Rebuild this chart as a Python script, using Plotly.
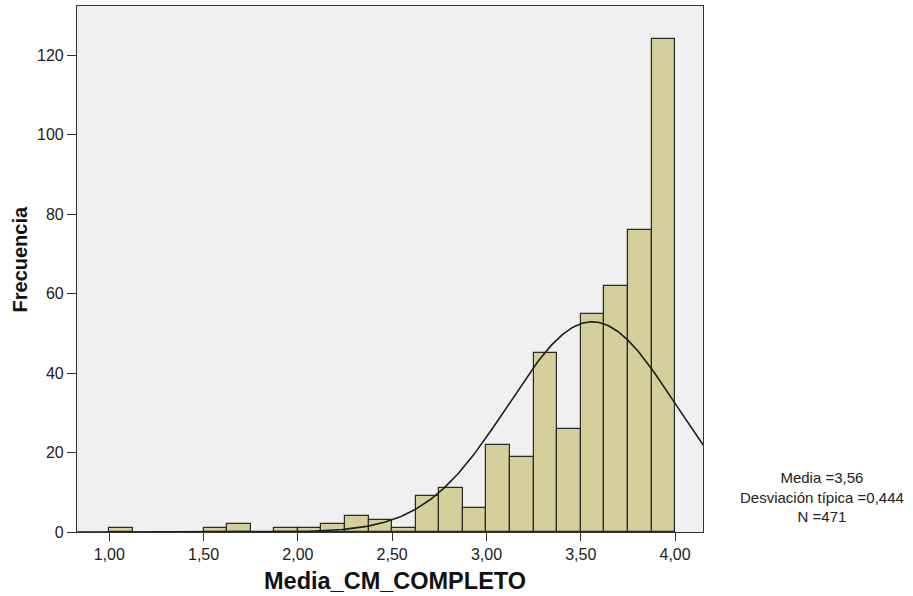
import numpy as np
import plotly.graph_objects as go

# Histogram of Media_CM_COMPLETO, bins of width 0.125
bin_width = 0.125
bin_starts = [1.000, 1.500, 1.625, 1.875, 2.000, 2.125, 2.250, 2.375, 2.500,
              2.625, 2.750, 2.875, 3.000, 3.125, 3.250, 3.375, 3.500, 3.625,
              3.750, 3.875]
counts = [1, 1, 2, 1, 1, 2, 4, 3, 1,
          9, 11, 6, 22, 19, 45, 26, 55, 62,
          76, 124]

# Summary statistics shown beside the chart
mean_val = 3.56
sd_val = 0.444
n_val = 471

x_ticks = [1.0, 1.5, 2.0, 2.5, 3.0, 3.5, 4.0]
y_ticks = [0, 20, 40, 60, 80, 100, 120]

x_range = [0.829, 4.148]
y_range = [0, 132.4]

centers = [s + bin_width / 2 for s in bin_starts]

# Normal curve scaled to frequency counts
xs = np.linspace(x_range[0] - 0.05, x_range[1] + 0.05, 400)
ys = n_val * bin_width / (sd_val * np.sqrt(2 * np.pi)) * np.exp(-0.5 * ((xs - mean_val) / sd_val) ** 2)

FONT = "Liberation Sans, Arial, sans-serif"

fig = go.Figure()
fig.add_trace(go.Bar(
    x=centers, y=counts, width=bin_width,
    marker=dict(color="#d4cf9b", line=dict(color="#2a2a2a", width=1.2)),
    hoverinfo="x+y",
))
fig.add_trace(go.Scatter(
    x=xs, y=ys, mode="lines",
    line=dict(color="#1e1e1e", width=1.6),
    hoverinfo="skip",
))

fig.update_layout(
    width=913, height=596,
    margin=dict(l=77, r=210, t=6, b=64),
    paper_bgcolor="white",
    plot_bgcolor="#f0f0f0",
    showlegend=False,
    separators=",.",
    font=dict(family=FONT, size=16, color="#222"),
    bargap=0,
)

fig.update_xaxes(
    range=x_range, tickvals=x_ticks, tickformat=".2f",
    showgrid=False, zeroline=False,
    showline=True, linecolor="#333", linewidth=1.2, mirror=True,
    ticks="outside", ticklen=8, tickcolor="#333", tickwidth=1.2,
    tickfont=dict(size=16, color="#222"),
)
fig.update_yaxes(
    range=y_range, tickvals=y_ticks,
    showgrid=False, zeroline=False,
    showline=True, linecolor="#333", linewidth=1.2, mirror=True,
    ticks="outside", ticklen=9, tickcolor="#333", tickwidth=1.2,
    tickfont=dict(size=16, color="#222"),
)

# Axis titles
fig.add_annotation(
    xref="paper", yref="paper", x=0.508, y=-0.094,
    xanchor="center", yanchor="middle", showarrow=False,
    text="<b>Media_CM_COMPLETO</b>",
    font=dict(family=FONT, size=23.5, color="#111"),
)
fig.add_annotation(
    xref="paper", yref="paper", x=-0.0903, y=0.519,
    xanchor="center", yanchor="middle", showarrow=False, textangle=-90,
    text="<b>Frecuencia</b>",
    font=dict(family=FONT, size=20, color="#111"),
)

# Summary statistics block
stat_lines = [
    f"Media ={mean_val:.2f}".replace(".", ","),
    f"Desviación típica ={sd_val:.3f}".replace(".", ","),
    f"N ={n_val}",
]
fig.add_annotation(
    xref="paper", yref="paper", x=1.190, y=0.0656,
    xanchor="center", yanchor="middle", align="center", showarrow=False,
    text="<br>".join(stat_lines),
    font=dict(family=FONT, size=15, color="#222"),
)

fig.write_html("out.html")
